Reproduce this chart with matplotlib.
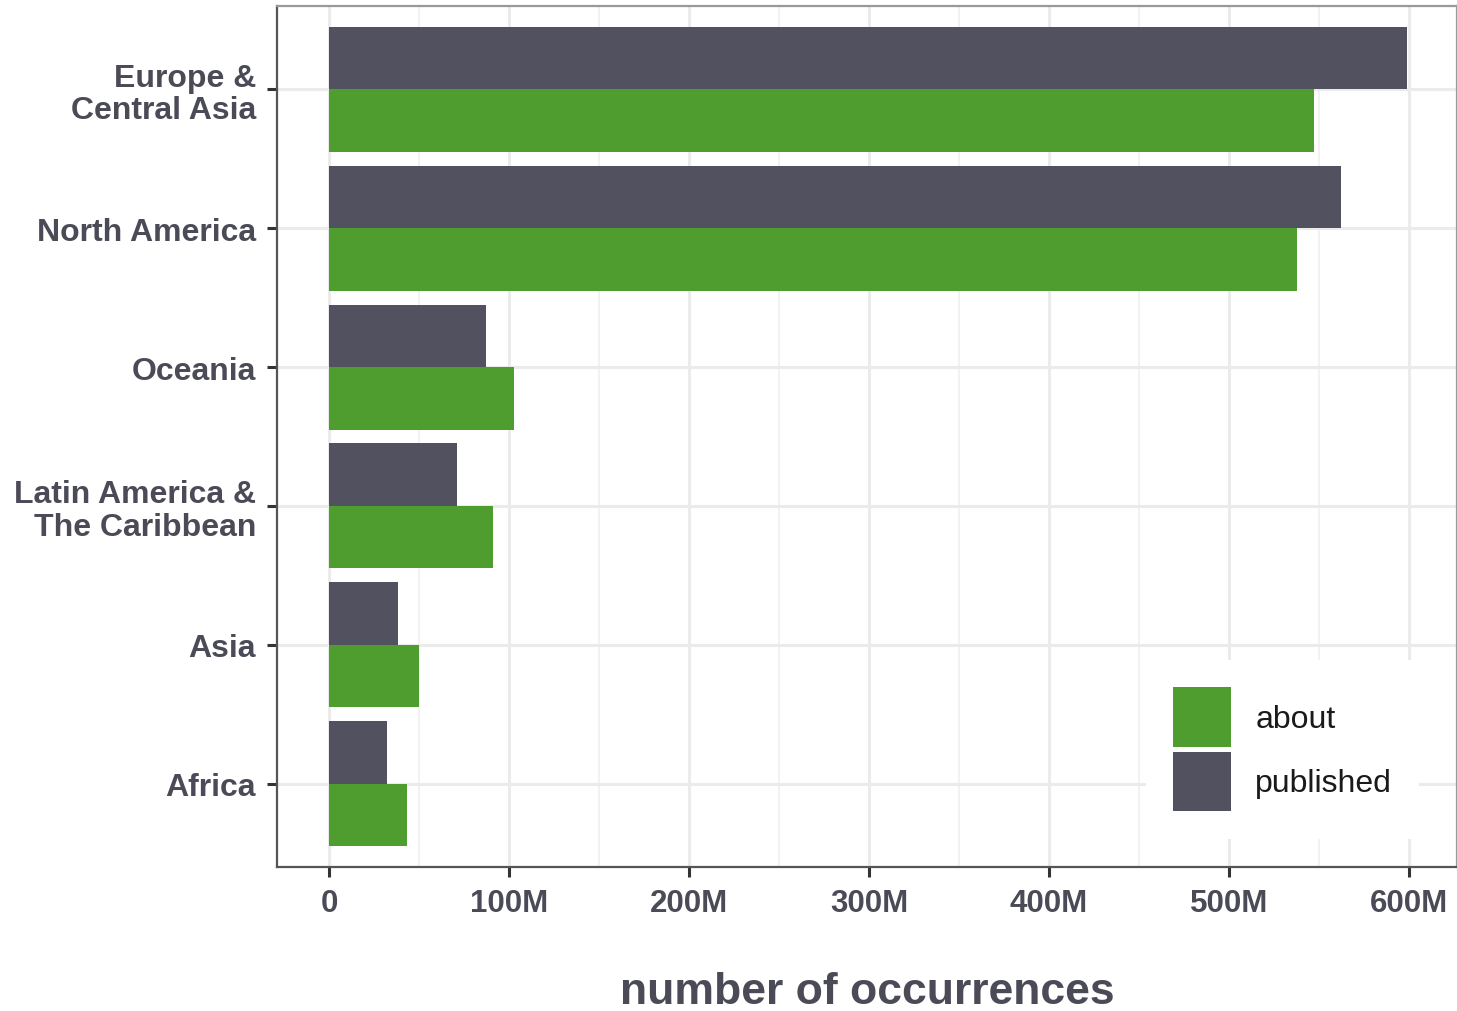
import numpy as np
from matplotlib import pyplot as plt
from matplotlib.patches import Patch
from matplotlib.ticker import MultipleLocator, FuncFormatter

# regions, bottom to top as drawn
regions = ["Africa", "Asia", "Latin America &\nThe Caribbean", "Oceania",
           "North America", "Europe &\nCentral Asia"]
# occurrences in millions
about = [43.2, 49.9, 91.2, 102.5, 538, 547]
published = [32.3, 38.4, 70.9, 87, 562, 599]

green = "#4f9d2f"
dark = "#52515f"
text_col = "#4b4b58"

plt.rcParams['font.family'] = ['Liberation Sans', 'DejaVu Sans']

fig = plt.figure(figsize=(14.57, 10.12), dpi=100)
ax = fig.add_axes([277 / 1457, 1 - 868 / 1012, 1 - 277 / 1457, (868 - 7) / 1012])

y = np.arange(len(regions))
h = 0.45
ax.barh(y + h / 2, published, height=h, color=dark, zorder=3)
ax.barh(y - h / 2, about, height=h, color=green, zorder=3)

ax.set_xlim(-28.9, 626.7)
ax.set_ylim(-0.6, 5.6)
ax.xaxis.set_major_locator(MultipleLocator(100))
ax.xaxis.set_minor_locator(MultipleLocator(50))
ax.xaxis.set_major_formatter(FuncFormatter(lambda v, p: "0" if v == 0 else "%dM" % v))
ax.set_yticks(y)
ax.set_yticklabels(regions, linespacing=1.1)

ax.grid(which="major", color="#ebebeb", lw=2.2, zorder=0)
ax.grid(which="minor", axis="x", color="#f2f2f2", lw=1.4, zorder=0)

ax.tick_params(axis="both", which="major", length=7, width=2.2, color="#333333",
               labelsize=22.5, labelcolor=text_col, pad=8)
ax.tick_params(axis="y", labelsize=23)
ax.tick_params(axis="x", which="minor", length=0)
for lab in ax.get_xticklabels() + ax.get_yticklabels():
    lab.set_fontweight("bold")

for s in ["left", "bottom"]:
    ax.spines[s].set_color("#555555")
    ax.spines[s].set_linewidth(1.6)
for s in ["top", "right"]:
    ax.spines[s].set_color("#999999")
    ax.spines[s].set_linewidth(1.6)

ax.set_xlabel("number of occurrences", fontsize=32, fontweight="bold",
              color=text_col, labelpad=38)

handles = [Patch(facecolor=green, label="about"), Patch(facecolor=dark, label="published")]
leg = ax.legend(handles=handles, loc="upper left",
                bbox_to_anchor=(1146 / 1457, 1 - 661 / 1012), bbox_transform=fig.transFigure,
                fontsize=23, frameon=True, fancybox=False, edgecolor="none",
                facecolor="white", framealpha=1, borderpad=0.85, borderaxespad=0,
                handlelength=1.82, handleheight=2.5, labelspacing=0.15,
                handletextpad=0.75)
for t in leg.get_texts():
    t.set_color("#1a1a1a")

fig.savefig("out.png", dpi=100)
